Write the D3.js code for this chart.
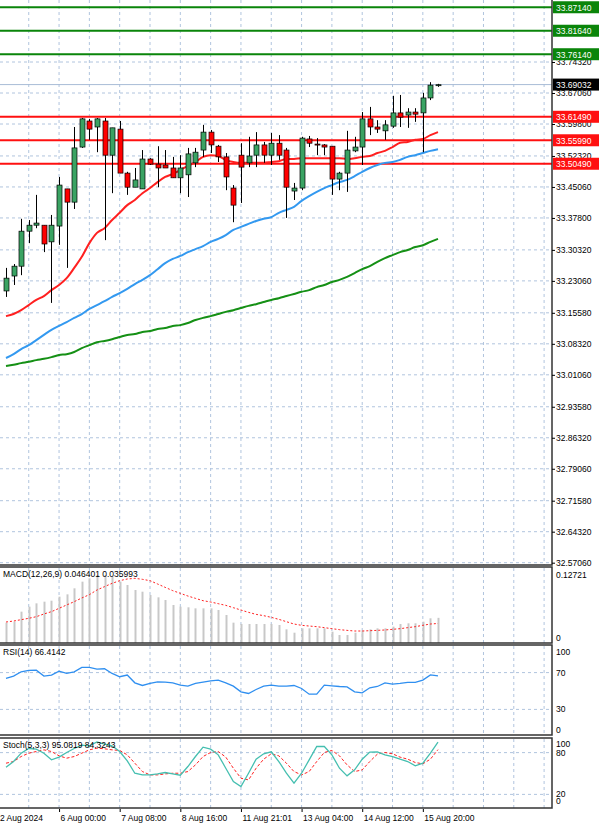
<!DOCTYPE html>
<html>
<head>
<meta charset="utf-8">
<script src="https://cdn.jsdelivr.net/npm/d3@7"></script>
<style>
body { margin: 0; background: #fff; }
text { font-family: "Liberation Sans", Arial, sans-serif; font-size: 8.5px; }
.grid line { stroke: #b0c4de; stroke-dasharray: 3,3; }
</style>
</head>
<body>
<svg id="chart" width="600" height="828"></svg>
<script>
// candles, 4h bars
var opens  = [33.207,33.242,33.265,33.347,33.361,33.361,33.322,33.359,33.446,33.415,33.544,33.605,33.591,33.605,33.525,33.586,33.483,33.450,33.446,33.516,33.504,33.502,33.495,33.472,33.479,33.507,33.537,33.579,33.546,33.521,33.448,33.525,33.507,33.525,33.549,33.525,33.553,33.537,33.441,33.448,33.563,33.551,33.549,33.546,33.469,33.483,33.535,33.544,33.610,33.591,33.582,33.593,33.624,33.619,33.626,33.624,33.659,33.689];
var highs  = [33.261,33.270,33.376,33.373,33.432,33.361,33.385,33.474,33.446,33.591,33.612,33.610,33.612,33.612,33.589,33.605,33.486,33.495,33.537,33.518,33.546,33.537,33.521,33.525,33.542,33.542,33.596,33.584,33.549,33.530,33.455,33.553,33.568,33.579,33.556,33.577,33.572,33.542,33.460,33.568,33.570,33.565,33.551,33.546,33.486,33.582,33.568,33.626,33.638,33.607,33.607,33.664,33.666,33.635,33.635,33.671,33.696,33.692];
var lows   = [33.193,33.221,33.244,33.319,33.354,33.298,33.179,33.315,33.261,33.399,33.542,33.561,33.532,33.326,33.436,33.483,33.432,33.450,33.446,33.502,33.450,33.497,33.472,33.436,33.427,33.497,33.521,33.530,33.509,33.443,33.368,33.413,33.497,33.497,33.507,33.502,33.514,33.378,33.420,33.443,33.544,33.525,33.525,33.432,33.443,33.439,33.532,33.502,33.572,33.577,33.561,33.589,33.591,33.589,33.603,33.532,33.654,33.685];
var closes = [33.237,33.265,33.347,33.361,33.366,33.317,33.361,33.455,33.415,33.542,33.610,33.586,33.610,33.525,33.589,33.483,33.450,33.467,33.516,33.504,33.495,33.495,33.472,33.495,33.528,33.532,33.579,33.549,33.521,33.474,33.408,33.497,33.523,33.549,33.525,33.553,33.525,33.450,33.448,33.565,33.553,33.549,33.544,33.469,33.483,33.537,33.544,33.610,33.591,33.586,33.596,33.624,33.614,33.626,33.621,33.659,33.689,33.690];

// moving averages
var maRed   = [33.148,33.153,33.162,33.174,33.186,33.195,33.209,33.221,33.237,33.261,33.287,33.319,33.343,33.354,33.373,33.390,33.408,33.420,33.436,33.448,33.462,33.474,33.481,33.490,33.500,33.509,33.521,33.525,33.523,33.514,33.509,33.507,33.507,33.507,33.507,33.509,33.511,33.516,33.516,33.518,33.518,33.518,33.518,33.518,33.518,33.516,33.518,33.521,33.523,33.530,33.535,33.544,33.554,33.556,33.561,33.563,33.572,33.579];
var maBlue  = [33.050,33.059,33.071,33.080,33.092,33.104,33.116,33.125,33.134,33.144,33.153,33.165,33.174,33.183,33.193,33.202,33.212,33.223,33.233,33.244,33.258,33.272,33.282,33.289,33.298,33.305,33.312,33.322,33.329,33.338,33.350,33.357,33.364,33.371,33.376,33.380,33.390,33.397,33.404,33.418,33.429,33.439,33.448,33.455,33.462,33.467,33.476,33.486,33.495,33.502,33.507,33.509,33.514,33.521,33.525,33.530,33.535,33.539];
var maGreen = [33.031,33.034,33.038,33.041,33.045,33.048,33.052,33.057,33.059,33.064,33.073,33.080,33.087,33.090,33.094,33.099,33.104,33.106,33.111,33.113,33.118,33.120,33.125,33.127,33.132,33.139,33.144,33.148,33.153,33.158,33.162,33.167,33.172,33.176,33.181,33.186,33.190,33.195,33.200,33.205,33.209,33.216,33.221,33.228,33.233,33.240,33.249,33.258,33.265,33.275,33.284,33.291,33.298,33.303,33.310,33.314,33.322,33.329];

var greenLevels = [33.8714, 33.8164, 33.7614];
var redLevels = [33.6149, 33.5599, 33.5049];
var lastPrice = 33.69032;
var priceTicks = [33.7432,33.6706,33.5980,33.5232,33.4506,33.3780,33.3032,33.2306,33.1558,33.0832,33.0106,32.9358,32.8632,32.7906,32.7158,32.6432,32.5706];

// MACD(12,26,9)
var macdHist = [0.0375,0.0393,0.0578,0.0670,0.0731,0.0762,0.0780,0.0854,0.0897,0.1008,0.1131,0.1192,0.1254,0.1254,0.1223,0.1131,0.1069,0.0977,0.0946,0.0885,0.0842,0.0793,0.0701,0.0670,0.0658,0.0639,0.0639,0.0639,0.0608,0.0516,0.0375,0.0350,0.0350,0.0350,0.0350,0.0350,0.0332,0.0252,0.0190,0.0270,0.0270,0.0270,0.0270,0.0209,0.0147,0.0147,0.0190,0.0227,0.0252,0.0270,0.0270,0.0301,0.0350,0.0363,0.0363,0.0393,0.0455,0.0464];
var macdSignal = [0.0387,0.0405,0.0430,0.0455,0.0485,0.0535,0.0578,0.0639,0.0701,0.0762,0.0830,0.0891,0.0977,0.1039,0.1100,0.1149,0.1180,0.1192,0.1174,0.1149,0.1088,0.1026,0.0965,0.0916,0.0866,0.0823,0.0780,0.0756,0.0725,0.0694,0.0651,0.0608,0.0565,0.0528,0.0504,0.0473,0.0436,0.0393,0.0350,0.0326,0.0313,0.0301,0.0283,0.0264,0.0246,0.0233,0.0221,0.0221,0.0227,0.0233,0.0240,0.0252,0.0264,0.0283,0.0301,0.0326,0.0350,0.0360];

// RSI(14)
var rsi = [63.6,66.2,70.9,72.4,72.7,66.2,67.3,71.6,69.1,70.9,75.6,75.6,73.8,74.2,69.1,65.5,67.3,58.9,56.0,58.2,60.0,59.6,58.9,56.4,55.3,58.2,59.6,61.1,61.8,58.9,55.3,49.1,47.3,51.6,55.3,56.4,55.3,55.3,56.0,52.7,46.5,46.5,56.4,55.6,54.9,54.5,49.1,48.0,53.5,54.9,58.9,57.5,58.2,59.3,59.3,61.8,67.5,66.4];

// Stoch(5,3,3)
var stochK = [59.0,67.2,79.2,85.9,85.0,79.2,69.6,73.5,80.2,85.9,90.7,89.8,95.5,92.2,89.8,81.6,68.2,50.4,48.0,48.0,49.4,51.4,49.4,47.5,60.0,74.4,87.9,85.0,76.8,57.6,38.4,31.2,50.4,70.6,78.3,81.1,67.2,50.4,36.0,50.4,69.6,88.8,88.8,76.8,57.6,46.6,55.2,70.6,80.7,81.1,76.8,74.4,70.6,67.2,61.0,64.8,79.2,95.1];
var stochD = [64.8,67.2,74.4,79.2,81.6,84.0,81.6,75.4,72.0,74.4,79.2,84.0,86.4,85.5,84.0,83.1,76.8,64.8,52.8,48.0,48.0,49.4,50.4,50.4,52.8,62.4,74.4,80.2,81.6,73.5,57.6,43.2,40.8,57.6,70.6,78.3,75.4,64.8,52.8,48.0,52.8,67.2,80.2,83.1,75.4,62.4,52.8,55.2,67.2,77.8,80.2,78.3,73.5,70.6,65.8,63.9,70.6,84.3];

var timeLabels = ["2 Aug 2024","6 Aug 00:00","7 Aug 08:00","8 Aug 16:00","11 Aug 21:01","13 Aug 04:00","14 Aug 12:00","15 Aug 20:00"];
var timeIdx = [-1, 7, 15, 23, 31, 39, 47, 55];

var W = 552;
var svg = d3.select("#chart");
var idx = d3.range(opens.length);

var x = d3.scaleLinear().domain([0, 57]).range([6, 438]);
var y = d3.scaleLinear().domain([32.5706, 33.7432]).range([562.7, 62]);
var yMacd = d3.scaleLinear().domain([0, 0.12721]).range([643, 574]);
var yRsi = d3.scaleLinear().domain([0, 100]).range([737, 645]);
var ySto = d3.scaleLinear().domain([0, 100]).range([808.3, 738.7]);

var gridX = d3.range(-1, 72, 4);

function vgrid(top, bottom)
{
	svg.append("g").attr("class", "grid")
		.selectAll("line").data(gridX).enter().append("line")
		.attr("x1", function(d) { return x(d); }).attr("x2", function(d) { return x(d); })
		.attr("y1", top).attr("y2", bottom);
}

function hgrid(scale, vals)
{
	svg.append("g").attr("class", "grid")
		.selectAll("line").data(vals).enter().append("line")
		.attr("x1", 0).attr("x2", W)
		.attr("y1", function(d) { return scale(d); }).attr("y2", function(d) { return scale(d); });
}

// grids
vgrid(0, 565); vgrid(568, 643); vgrid(646, 735); vgrid(739, 808);
hgrid(y, priceTicks);
hgrid(yRsi, [70, 30]);
hgrid(ySto, [80, 20]);

// level lines
svg.append("line").attr("x1", 0).attr("x2", W).attr("y1", y(lastPrice)).attr("y2", y(lastPrice))
	.attr("stroke", "#a9bcd6").attr("stroke-width", 1);
greenLevels.forEach(function(v)
{
	svg.append("line").attr("x1", 0).attr("x2", W).attr("y1", y(v)).attr("y2", y(v))
		.attr("stroke", "#0a850a").attr("stroke-width", 2);
});
redLevels.forEach(function(v)
{
	svg.append("line").attr("x1", 0).attr("x2", W).attr("y1", y(v)).attr("y2", y(v))
		.attr("stroke", "#ff1010").attr("stroke-width", 2);
});

// moving averages
function maLine(arr, color)
{
	svg.append("path").datum(arr)
		.attr("fill", "none").attr("stroke", color).attr("stroke-width", 2)
		.attr("d", d3.line().curve(d3.curveMonotoneX).x(function(d, i) { return x(i); }).y(function(d) { return y(d); }));
}
maLine(maGreen, "#159015");
maLine(maBlue, "#3399f0");
maLine(maRed, "#ff2020");

// candles
var c = svg.append("g").selectAll("g").data(idx).enter().append("g");
c.append("line")
	.attr("x1", function(i) { return Math.round(x(i)) + 0.5; }).attr("x2", function(i) { return Math.round(x(i)) + 0.5; })
	.attr("y1", function(i) { return y(highs[i]); }).attr("y2", function(i) { return y(lows[i]); })
	.attr("stroke", "#000").attr("stroke-width", 1);
c.append("rect")
	.attr("x", function(i) { return Math.round(x(i)) - 2; })
	.attr("width", 5)
	.attr("y", function(i) { return y(Math.max(opens[i], closes[i])); })
	.attr("height", function(i) { return Math.max(1, Math.abs(y(opens[i]) - y(closes[i]))); })
	.attr("fill", function(i) { return closes[i] >= opens[i] ? "#3aa363" : "#ff0000"; })
	.attr("stroke", "#000").attr("stroke-width", 0.7);

// MACD
svg.append("g").selectAll("line").data(idx).enter().append("line")
	.attr("x1", function(i) { return Math.round(x(i)) + 0.5; }).attr("x2", function(i) { return Math.round(x(i)) + 0.5; })
	.attr("y1", yMacd(0)).attr("y2", function(i) { return yMacd(macdHist[i]); })
	.attr("stroke", "#c8c8c8").attr("stroke-width", 2);
svg.append("path").datum(macdSignal)
	.attr("fill", "none").attr("stroke", "#ff2020").attr("stroke-width", 1).attr("stroke-dasharray", "2,2")
	.attr("d", d3.line().x(function(d, i) { return x(i); }).y(function(d) { return yMacd(d); }));

// RSI
svg.append("path").datum(rsi)
	.attr("fill", "none").attr("stroke", "#2f8ff0").attr("stroke-width", 1.3)
	.attr("d", d3.line().x(function(d, i) { return x(i); }).y(function(d) { return yRsi(d); }));

// Stoch
svg.append("path").datum(stochD)
	.attr("fill", "none").attr("stroke", "#ff2020").attr("stroke-width", 1).attr("stroke-dasharray", "3,2")
	.attr("d", d3.line().x(function(d, i) { return x(i); }).y(function(d) { return ySto(d); }));
svg.append("path").datum(stochK)
	.attr("fill", "none").attr("stroke", "#45bfb0").attr("stroke-width", 1.3)
	.attr("d", d3.line().x(function(d, i) { return x(i); }).y(function(d) { return ySto(d); }));

// panel frames
[[-2, 565], [567, 643], [645, 735], [738, 808]].forEach(function(p)
{
	svg.append("rect").attr("x", -2).attr("y", p[0]).attr("width", W + 2).attr("height", p[1] - p[0])
		.attr("fill", "none").attr("stroke", "#333").attr("stroke-width", 1.5);
});

// right price axis
var ax = svg.append("g").attr("transform", "translate(" + W + ",0)")
	.call(d3.axisRight(y).tickValues(priceTicks).tickSize(3).tickFormat(d3.format(".5f")));
ax.select(".domain").remove();
ax.selectAll("text").attr("x", 4).attr("dy", "0.35em").style("font-size", "8.5px");

function tagLabel(v, fill, txt)
{
	svg.append("rect").attr("x", W + 1).attr("y", y(v) - 6).attr("width", 46).attr("height", 12).attr("fill", fill);
	svg.append("text").attr("x", W + 4).attr("y", y(v) + 3.5).attr("fill", txt).text(d3.format(".5f")(v));
}
greenLevels.forEach(function(v) { tagLabel(v, "#0a850a", "#fff"); });
redLevels.forEach(function(v) { tagLabel(v, "#ff1010", "#fff"); });
tagLabel(lastPrice, "#000", "#fff");

// sub-panel axes
function sideAxis(scale, vals, fmt, dys)
{
	vals.forEach(function(v, k)
	{
		svg.append("text").attr("x", W + 4).attr("y", scale(v) + dys[k]).text(fmt(v));
	});
}
sideAxis(yMacd, [0.12721, 0], function(v) { return v ? d3.format(".5f")(v) : "0"; }, [4, -2]);
sideAxis(yRsi, [100, 70, 30, 0], String, [10, 3, 3, -4]);
sideAxis(ySto, [100, 80, 20, 0], String, [8, 3, 3, -4]);

// panel titles
svg.append("text").attr("x", 3).attr("y", 577).text("MACD(12,26,9) 0.046401 0.035993");
svg.append("text").attr("x", 3).attr("y", 655).text("RSI(14) 66.4142");
svg.append("text").attr("x", 3).attr("y", 748).text("Stoch(5,3,3) 95.0819 84.3243");

// time axis
var tx = svg.append("g").attr("transform", "translate(0,809)")
	.call(d3.axisBottom(x).tickValues(timeIdx).tickSize(3)
		.tickFormat(function(d, i) { return timeLabels[i]; }));
tx.select(".domain").remove();
tx.selectAll("text").attr("text-anchor", "start").attr("dx", "1").style("font-size", "8.5px");
</script>
</body>
</html>
